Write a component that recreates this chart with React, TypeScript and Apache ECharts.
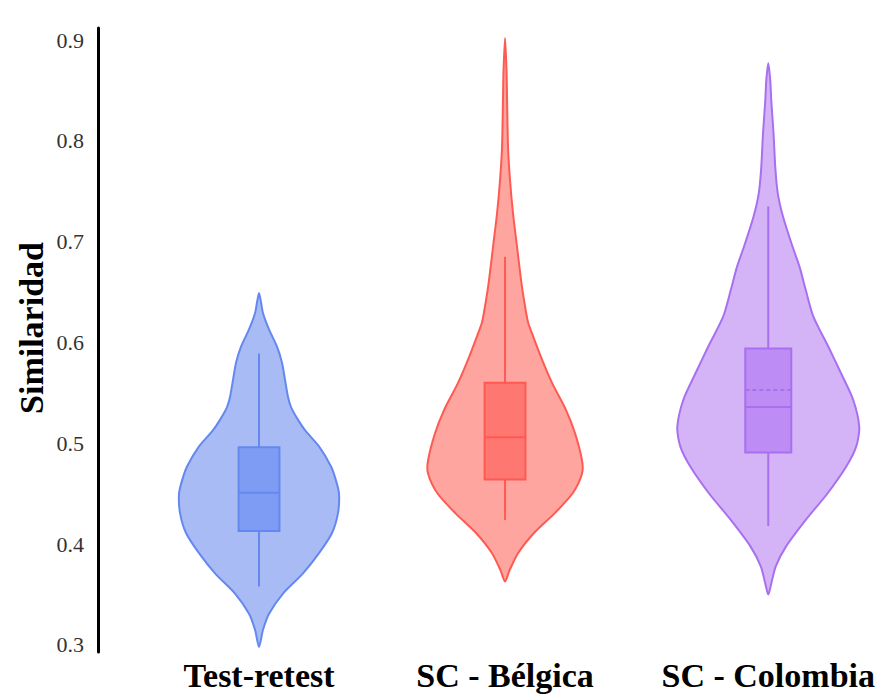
import React, { useEffect, useRef } from "react";
import * as echarts from "echarts";

const categories = ["Test-retest", "SC - Bélgica", "SC - Colombia"];
const catX = [0, 1, 2.07];
const yTicks = [0.3, 0.4, 0.5, 0.6, 0.7, 0.8, 0.9];

// [similarity, relative density]
const densityTestRetest = [
  [0.649, 0], [0.64, 0.02], [0.629, 0.04], [0.613, 0.1], [0.596, 0.18], [0.58, 0.23],
  [0.563, 0.26], [0.546, 0.29], [0.536, 0.32], [0.525, 0.38], [0.513, 0.46], [0.497, 0.6],
  [0.477, 0.72], [0.463, 0.77], [0.45, 0.8], [0.431, 0.79], [0.411, 0.73], [0.391, 0.6],
  [0.371, 0.44], [0.351, 0.24], [0.331, 0.1], [0.315, 0.04], [0.298, 0],
];
const densityBelgica = [
  [0.902, 0], [0.87, 0.015], [0.844, 0.02], [0.794, 0.03], [0.761, 0.05], [0.728, 0.08],
  [0.695, 0.12], [0.662, 0.16], [0.642, 0.19], [0.62, 0.23], [0.609, 0.27], [0.583, 0.37],
  [0.56, 0.47], [0.533, 0.61], [0.51, 0.7], [0.483, 0.77], [0.47, 0.77], [0.451, 0.68],
  [0.431, 0.5], [0.411, 0.29], [0.391, 0.13], [0.374, 0.045], [0.363, 0],
];
const densityColombia = [
  [0.877, 0], [0.86, 0.02], [0.84, 0.03], [0.807, 0.053], [0.774, 0.07], [0.748, 0.095],
  [0.725, 0.147], [0.698, 0.233], [0.675, 0.313], [0.652, 0.375], [0.626, 0.45], [0.596, 0.6],
  [0.569, 0.73], [0.543, 0.85], [0.516, 0.91], [0.497, 0.88], [0.477, 0.78], [0.45, 0.59],
  [0.424, 0.375], [0.398, 0.18], [0.378, 0.075], [0.361, 0.03], [0.35, 0],
];
const densities = [densityTestRetest, densityBelgica, densityColombia];

// [lower whisker, Q1, median, Q3, upper whisker]
const boxTestRetest = [0.358, 0.413, 0.451, 0.496, 0.589];
const boxBelgica = [0.424, 0.464, 0.506, 0.56, 0.685];
const boxColombia = [0.418, 0.491, 0.536, 0.594, 0.735];
const boxes = [boxTestRetest, boxBelgica, boxColombia];
const means = [null, null, 0.553];

const fillColors = ["#a8bbf5", "#fea5a0", "#d4b4f7"];
const lineColors = ["#6488f0", "#fe5a52", "#a870ef"];
const boxColors = ["#7f9cf4", "#fe7770", "#bd8cf4"];
const boxHalf = [0.083, 0.083, 0.0935];
const violinScale = 0.4065; // x units per unit density

export default function App() {
  const ref = useRef<HTMLDivElement>(null);
  useEffect(() => {
    if (!ref.current) return;
    const chart = echarts.init(ref.current, null, { renderer: "svg" });
    const option: any = {
      animation: false,
      backgroundColor: "#ffffff",
      grid: { left: 98, right: 0, top: 28, bottom: 46 },
      xAxis: {
        type: "value",
        min: -0.6545,
        max: 2.516,
        axisLine: { show: false },
        axisTick: { show: false },
        splitLine: { show: false },
        axisLabel: {
          customValues: catX,
          formatter: (v: number) => {
            const idx = catX.findIndex((c) => Math.abs(c - v) < 1e-6);
            return idx >= 0 ? categories[idx] : "";
          },
          fontSize: 34,
          fontWeight: "bold",
          fontFamily: "Liberation Serif",
          color: "#000",
          margin: 6,
        },
      },
      yAxis: {
        type: "value",
        min: 0.293,
        max: 0.912,
        axisLine: { show: true, onZero: false, lineStyle: { color: "#000", width: 3 } },
        axisTick: { show: false },
        splitLine: { show: false },
        axisLabel: {
          customValues: yTicks,
          formatter: (v: number) => v.toFixed(1),
          fontSize: 22,
          fontFamily: "Liberation Serif",
          color: "#333",
          margin: 14,
        },
      },
      graphic: [
        {
          type: "text",
          x: 31,
          y: 328,
          rotation: Math.PI / 2,
          style: {
            text: "Similaridad",
            fontSize: 34,
            fontWeight: "bold",
            fontFamily: "Liberation Serif",
            fill: "#000",
            textAlign: "center",
            textVerticalAlign: "middle",
          },
        },
      ],
      series: [
        {
          type: "custom",
          clip: false,
          data: categories.map((c, i) => [catX[i], boxes[i][2]]),
          renderItem: (params: any, api: any) => {
            const i = params.dataIndex;
            const prof = densities[i];
            const scale = api.size([violinScale, 0])[0];
            const left: number[][] = [];
            const right: number[][] = [];
            prof.forEach(([v, d]: number[], k: number) => {
              const p = api.coord([catX[i], v]);
              left.push([p[0] - d * scale, p[1]]);
              if (!(d === 0 && (k === 0 || k === prof.length - 1))) {
                right.push([p[0] + d * scale, p[1]]);
              }
            });
            const pts = left.concat(right.reverse());
            const b = boxes[i];
            const bw = api.size([boxHalf[i], 0])[0];
            const pLow = api.coord([catX[i], b[0]]);
            const pQ1 = api.coord([catX[i], b[1]]);
            const pMed = api.coord([catX[i], b[2]]);
            const pQ3 = api.coord([catX[i], b[3]]);
            const pHigh = api.coord([catX[i], b[4]]);
            const cx = pMed[0];
            const children: any[] = [
              {
                type: "polygon",
                shape: { points: pts, smooth: 0.25 },
                style: { fill: fillColors[i], stroke: lineColors[i], lineWidth: 2 },
              },
              {
                type: "line",
                shape: { x1: cx, y1: pHigh[1], x2: cx, y2: pQ3[1] },
                style: { stroke: lineColors[i], lineWidth: 2 },
              },
              {
                type: "line",
                shape: { x1: cx, y1: pQ1[1], x2: cx, y2: pLow[1] },
                style: { stroke: lineColors[i], lineWidth: 2 },
              },
              {
                type: "rect",
                shape: { x: cx - bw, y: pQ3[1], width: 2 * bw, height: pQ1[1] - pQ3[1] },
                style: { fill: boxColors[i], stroke: lineColors[i], lineWidth: 2 },
              },
              {
                type: "line",
                shape: { x1: cx - bw, y1: pMed[1], x2: cx + bw, y2: pMed[1] },
                style: { stroke: lineColors[i], lineWidth: 2 },
              },
            ];
            const m = means[i];
            if (m !== null) {
              const pm = api.coord([catX[i], m]);
              children.push({
                type: "line",
                shape: { x1: cx - bw, y1: pm[1], x2: cx + bw, y2: pm[1] },
                style: { stroke: lineColors[i], lineWidth: 2, lineDash: [4, 3] },
              });
            }
            return { type: "group", children };
          },
        },
      ],
    };
    chart.setOption(option);
    return () => chart.dispose();
  }, []);
  return (
    <div
      ref={ref}
      style={{ position: "fixed", left: 0, top: 0, width: 878, height: 698, background: "#fff" }}
    />
  );
}
